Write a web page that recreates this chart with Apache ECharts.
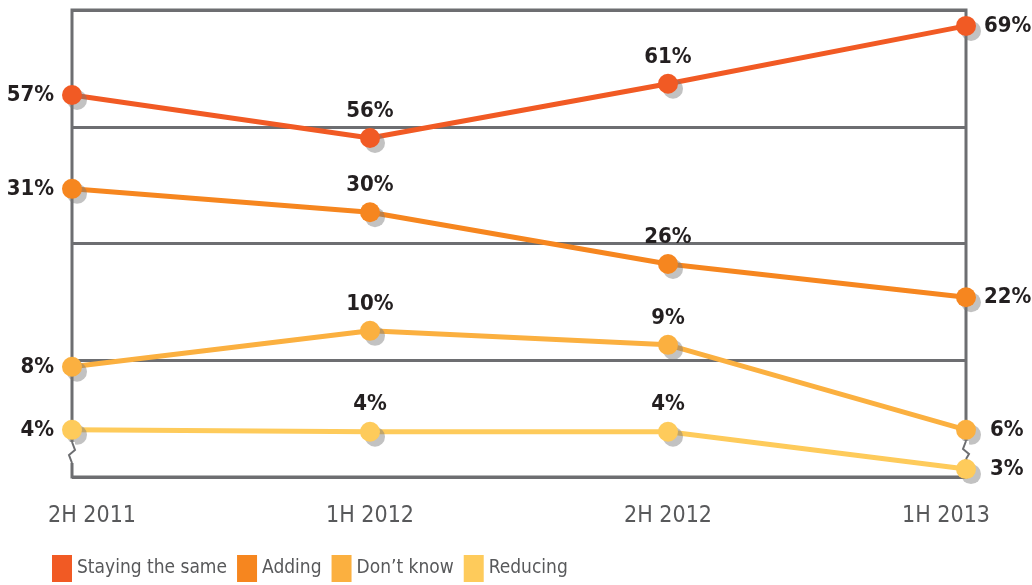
<!DOCTYPE html>
<html>
<head>
<meta charset="utf-8">
<script src="https://cdn.jsdelivr.net/npm/echarts@6/dist/echarts.min.js"></script>
<style>
  html, body { margin: 0; padding: 0; background: #fff; }
  #chart { width: 1032px; height: 585px; }
</style>
</head>
<body>
<div id="chart"></div>
<script>
// periods on the x axis
const periods = ['2H 2011', '1H 2012', '2H 2012', '1H 2013']
const seriesNames = ['Staying the same', 'Adding', 'Don\u2019t know', 'Reducing']

// printed percentages
const stayingPct = [57, 56, 61, 69]
const addingPct = [31, 30, 26, 22]
const dontKnowPct = [8, 10, 9, 6]
const reducingPct = [4, 4, 4, 3]

// the chart is not drawn to a linear scale: plotted height of each point,
// read off the picture, on a 0-100 frame scale
const stayingLevel = [81.8, 72.6, 84.2, 96.6]
const addingLevel = [61.7, 56.7, 45.6, 38.5]
const dontKnowLevel = [23.6, 31.3, 28.3, 10.1]
const reducingLevel = [10.1, 9.7, 9.7, 1.7]

const colors = ['#f15a24', '#f6861f', '#fbb040', '#fecb5b']
const frameColor = '#6d6e71'
const fontFamily = '"Liberation Sans Narrow", "DejaVu Sans Condensed", "Roboto", sans-serif'

const chart = echarts.init(document.getElementById('chart'))

// 每个点的标签：首点在左，末点在右，其余在上
function buildData(levels, pcts) {
  const last = levels.length - 1
  return levels.map((v, i) => {
    let position = 'top'
    let distance = 6
    if (i === 0) { position = 'left'; distance = 8 }
    if (i === last) { position = 'right'; distance = pcts[i] < 10 ? 14 : 8 }
    return {
      value: v,
      label: { position, distance, formatter: pcts[i] + '%' }
    }
  })
}

function makeSeries(name, levels, pcts, color) {
  return {
    name,
    type: 'line',
    data: buildData(levels, pcts),
    symbol: 'circle',
    symbolSize: 20,
    showSymbol: true,
    lineStyle: { color, width: 5 },
    itemStyle: {
      color,
      shadowColor: 'rgba(120,120,120,0.45)',
      shadowBlur: 0,
      shadowOffsetX: 5,
      shadowOffsetY: 5
    },
    label: {
      show: true,
      color: '#231f20',
      fontFamily,
      fontWeight: 'bold',
      fontSize: 22
    },
    emphasis: { disabled: true },
    animation: false
  }
}

const option = {
  animation: false,
  grid: {
    left: 72, right: 66, top: 10, bottom: 108,
    show: true,
    borderColor: frameColor,
    borderWidth: 3,
    backgroundColor: 'transparent'
  },
  legend: {
    left: 52,
    top: 555,
    padding: 0,
    icon: 'rect',
    itemWidth: 20,
    itemHeight: 27,
    itemGap: 10,
    data: seriesNames,
    itemStyle: { shadowBlur: 0, shadowOffsetX: 0, shadowOffsetY: 0, shadowColor: 'transparent' },
    lineStyle: { width: 0 },
    textStyle: { color: '#58595b', fontFamily, fontSize: 19 },
    selectedMode: false
  },
  xAxis: {
    type: 'category',
    boundaryGap: false,
    data: periods.map((p, i) => {
      if (i === 0) return { value: p, textStyle: { padding: [0, 0, 0, 40] } }
      if (i === periods.length - 1) return { value: p, textStyle: { padding: [0, 40, 0, 0] } }
      return p
    }),
    axisLine: { show: false },
    axisTick: { show: false },
    axisLabel: { color: '#58595b', fontFamily, fontSize: 23, margin: 28 },
    splitLine: { show: false }
  },
  yAxis: {
    type: 'value',
    min: 0,
    max: 100,
    interval: 25,
    axisLine: { show: false },
    axisTick: { show: false },
    axisLabel: { show: false },
    splitLine: { show: true, lineStyle: { color: frameColor, width: 3 } }
  },
  series: [
    makeSeries(seriesNames[0], stayingLevel, stayingPct, colors[0]),
    makeSeries(seriesNames[1], addingLevel, addingPct, colors[1]),
    makeSeries(seriesNames[2], dontKnowLevel, dontKnowPct, colors[2]),
    makeSeries(seriesNames[3], reducingLevel, reducingPct, colors[3])
  ]
}

chart.setOption(option)

// 坐标轴断裂标记（左右两侧）
function drawBreaks() {
  const bl = chart.convertToPixel({ gridIndex: 0 }, [0, 0])
  const br = chart.convertToPixel({ gridIndex: 0 }, [periods.length - 1, 0])
  const mark = (x, y0, y1, dir) => ([
    {
      type: 'rect',
      z: 5,
      shape: { x: x - 3, y: y0, width: 6, height: y1 - y0 },
      style: { fill: '#fff' }
    },
    {
      type: 'polyline',
      z: 6,
      shape: {
        points: [[x, y0], [x + 3 * dir, y0 + 8], [x - 3 * dir, y0 + 13], [x, y1]]
      },
      style: { stroke: frameColor, lineWidth: 2, fill: null }
    }
  ])
  chart.setOption({
    graphic: [
      ...mark(bl[0], bl[1] - 35, bl[1] - 14, 1),
      ...mark(br[0], br[1] - 36, br[1] - 18, -1)
    ]
  })
}
drawBreaks()
</script>
</body>
</html>
